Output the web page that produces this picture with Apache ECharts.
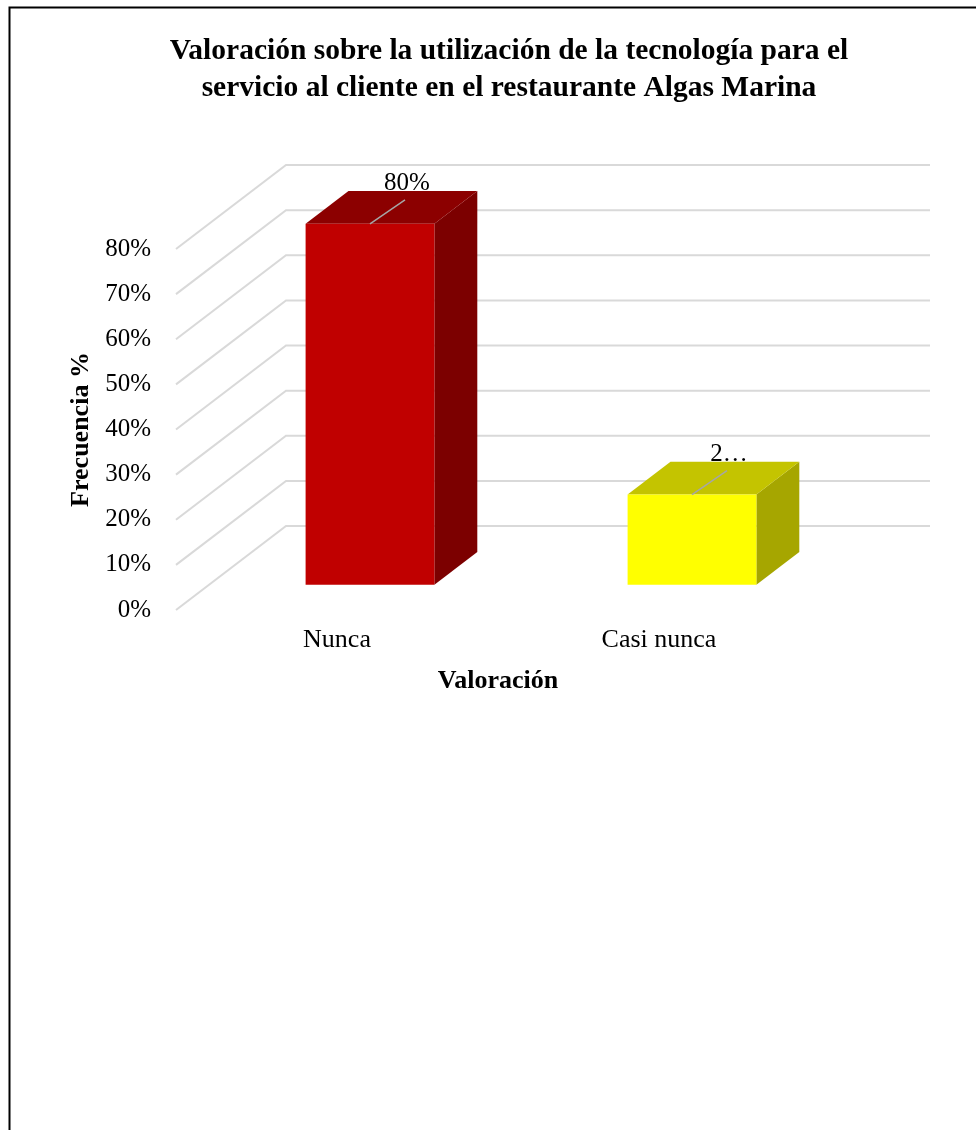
<!DOCTYPE html>
<html>
<head>
<meta charset="utf-8">
<script src="https://cdn.jsdelivr.net/npm/echarts@6/dist/echarts.min.js"></script>
<style>
  html, body { margin: 0; padding: 0; background: #fff; }
  #chart { width: 976px; height: 1130px; }
</style>
</head>
<body>
<div id="chart"></div>
<script>
// Chart data
const categories = ['Nunca', 'Casi nunca'];
const values = [0.8, 0.2];
const yTicks = [0, 0.1, 0.2, 0.3, 0.4, 0.5, 0.6, 0.7, 0.8];

const titleText = 'Valoración sobre la utilización de la tecnología para el\nservicio al cliente en el restaurante Algas Marina';
const xTitle = 'Valoración';
const yTitle = 'Frecuencia %';

// 3D look: offset of the back wall relative to the front plane
const DX = 110;
const DY = -84;
// bar depth range (fraction of floor depth) and width (fraction of band)
const DEPTH0 = 0.30;
const DEPTH1 = 0.69;
const BAR_W = 0.4;

const SERIF = "'Liberation Serif', 'Times New Roman', serif";

// per-bar face colours and the width available to each value label
const barStyles = [
  { front: '#C00000', top: '#8C0000', side: '#7C0000', labelWidth: 60 },
  { front: '#FFFF00', top: '#C4C400', side: '#A6A600', labelWidth: 40 }
];

const pct = v => Math.round(v * 100) + '%';

const chart = echarts.init(document.getElementById('chart'), null, { renderer: 'canvas' });

chart.setOption({
  backgroundColor: '#ffffff',
  animation: false,
  graphic: [
    {
      type: 'polyline',
      shape: { points: [[9.5, 1130], [9.5, 7.5], [976, 7.5]] },
      style: { stroke: '#000', lineWidth: 2, fill: null },
      silent: true
    },
    {
      type: 'text',
      x: 509,
      y: 70,
      style: {
        text: titleText,
        font: 'bold 29.5px ' + SERIF,
        fill: '#000',
        align: 'center',
        verticalAlign: 'middle',
        lineHeight: 37
      }
    }
  ],
  grid: { left: 176, right: 156, top: 249, bottom: 520 },
  xAxis: {
    type: 'category',
    data: categories,
    axisLine: { show: false },
    axisTick: { show: false },
    splitLine: { show: false },
    axisLabel: { color: '#000', fontFamily: SERIF, fontSize: 26, margin: 17 },
    name: xTitle,
    nameLocation: 'middle',
    nameGap: 58,
    nameTextStyle: { color: '#000', fontFamily: SERIF, fontSize: 26, fontWeight: 'bold' }
  },
  yAxis: {
    type: 'value',
    min: 0,
    max: 0.8,
    interval: 0.1,
    axisLine: { show: false },
    axisTick: { show: false },
    splitLine: { show: false },
    axisLabel: { color: '#000', fontFamily: SERIF, fontSize: 25, margin: 25, formatter: pct },
    name: yTitle,
    nameLocation: 'middle',
    nameGap: 74,
    nameTextStyle: { color: '#000', fontFamily: SERIF, fontSize: 26, fontWeight: 'bold' }
  },
  series: [
    {
      // side wall and back wall gridlines
      type: 'custom',
      z: 1,
      silent: true,
      data: yTicks.map(v => [0, v]),
      renderItem: function (params, api) {
        const cs = params.coordSys;
        const y = api.coord([0, api.value(1)])[1];
        return {
          type: 'polyline',
          shape: { points: [[cs.x, y], [cs.x + DX, y + DY], [cs.x + cs.width + DX, y + DY]] },
          style: { stroke: '#D9D9D9', lineWidth: 2, fill: null }
        };
      }
    },
    {
      // 3D bars with value labels
      type: 'custom',
      z: 2,
      data: values.map((v, i) => [i, v]),
      renderItem: function (params, api) {
        const i = api.value(0);
        const v = api.value(1);
        const st = barStyles[i];
        const base = api.coord([i, 0]);
        const top = api.coord([i, v]);
        const band = api.size([1, 0])[0];
        const w = band * BAR_W;
        const x0 = base[0] - w / 2 + DX * DEPTH0;
        const x1 = x0 + w;
        const yb = base[1] + DY * DEPTH0;
        const yt = top[1] + DY * DEPTH0;
        const ddx = DX * (DEPTH1 - DEPTH0);
        const ddy = DY * (DEPTH1 - DEPTH0);
        const cx = (x0 + x1) / 2;
        const lx = cx + 35;
        const ly = yt - 24;
        return {
          type: 'group',
          children: [
            {
              type: 'polygon',
              shape: { points: [[x1, yt], [x1 + ddx, yt + ddy], [x1 + ddx, yb + ddy], [x1, yb]] },
              style: { fill: st.side }
            },
            {
              type: 'polygon',
              shape: { points: [[x0, yt], [x1, yt], [x1 + ddx, yt + ddy], [x0 + ddx, yt + ddy]] },
              style: { fill: st.top }
            },
            {
              type: 'rect',
              shape: { x: x0, y: yt, width: w, height: yb - yt },
              style: { fill: st.front }
            },
            {
              type: 'line',
              shape: { x1: cx, y1: yt, x2: lx, y2: ly },
              style: { stroke: '#A6A6A6', lineWidth: 1.5 }
            },
            {
              type: 'text',
              x: lx + 2,
              y: ly - 16,
              style: {
                text: pct(v),
                font: '25px ' + SERIF,
                fill: '#000',
                align: 'center',
                verticalAlign: 'middle',
                width: st.labelWidth,
                overflow: 'truncate',
                ellipsis: '…'
              }
            }
          ]
        };
      }
    }
  ]
});
</script>
</body>
</html>
